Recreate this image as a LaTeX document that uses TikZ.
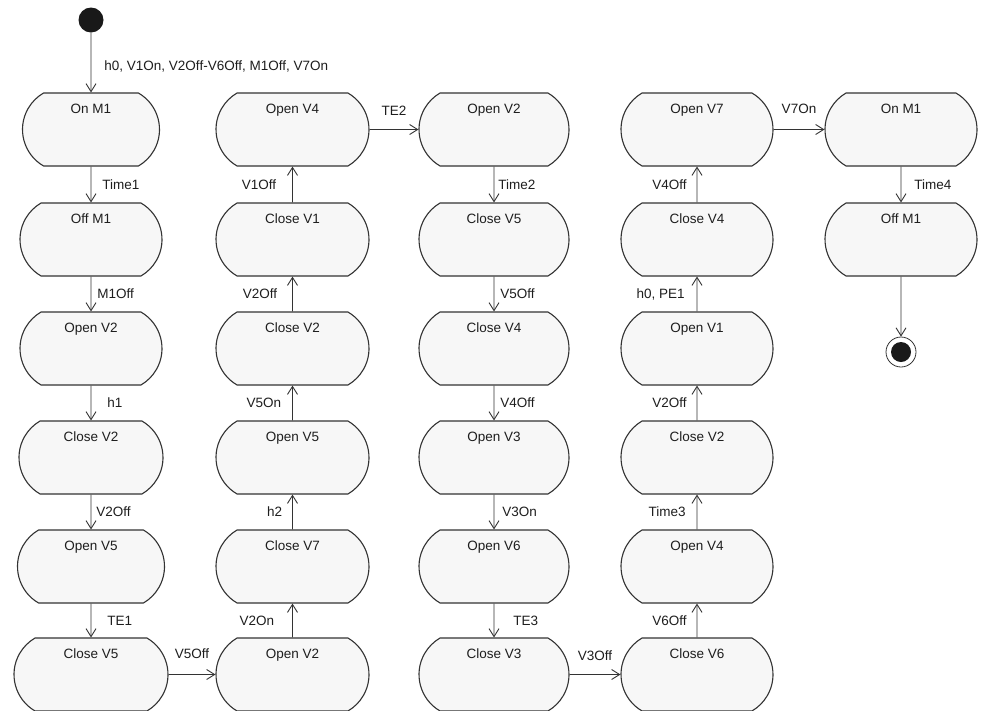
\documentclass[tikz,border=0pt]{standalone}
\usepackage{fontspec}
\setmainfont{Liberation Sans}
\usetikzlibrary{shapes.misc,arrows.meta}
\definecolor{ln}{HTML}{333333}
\definecolor{bx}{HTML}{F7F7F7}
\definecolor{tx}{HTML}{1E1E1E}
\begin{document}
\begin{tikzpicture}[x=1pt,y=-1pt,
 st/.style={rounded rectangle, rounded rectangle arc length=120, draw=ln, fill=bx,
   line width=1.1pt, minimum height=73pt, inner xsep=4pt, inner ysep=0pt,
   text height=20pt, text depth=53pt, font=\fontsize{13.5}{16}\selectfont, text=tx},
 tr/.style={draw=ln, line width=0.9pt, -{Straight Barb[length=8pt,width=10pt,line width=0.9pt]}},
 lab/.style={font=\fontsize{13.5}{16}\selectfont, text=tx, inner sep=0pt},
 R/.style={lab, anchor=west, xshift=#1},
 L/.style={lab, anchor=east, xshift=-#1},
 A/.style={lab, anchor=south, yshift=#1},
]
\useasboundingbox (0,0) rectangle (983,710);
\fill[white] (0,0) rectangle (983,710);
% column 1
\node[st, minimum width=145pt] (a1) at (91,129.5) {On M1};
\node[st, minimum width=150pt] (a2) at (91,239.5) {Off M1};
\node[st, minimum width=150pt] (a3) at (91,348.5) {Open V2};
\node[st, minimum width=152pt] (a4) at (91,457.5) {Close V2};
\node[st, minimum width=155pt] (a5) at (91,566.5) {Open V5};
\node[st, minimum width=162pt] (a6) at (91,674.5) {Close V5};
% column 2
\node[st, minimum width=161pt] (b1) at (292.5,129.5) {Open V4};
\node[st, minimum width=161pt] (b2) at (292.5,239.5) {Close V1};
\node[st, minimum width=161pt] (b3) at (292.5,348.5) {Close V2};
\node[st, minimum width=161pt] (b4) at (292.5,457.5) {Open V5};
\node[st, minimum width=161pt] (b5) at (292.5,566.5) {Close V7};
\node[st, minimum width=161pt] (b6) at (292.5,674.5) {Open V2};
% column 3
\node[st, minimum width=158pt] (c1) at (494,129.5) {Open V2};
\node[st, minimum width=158pt] (c2) at (494,239.5) {Close V5};
\node[st, minimum width=158pt] (c3) at (494,348.5) {Close V4};
\node[st, minimum width=158pt] (c4) at (494,457.5) {Open V3};
\node[st, minimum width=158pt] (c5) at (494,566.5) {Open V6};
\node[st, minimum width=158pt] (c6) at (494,674.5) {Close V3};
% column 4
\node[st, minimum width=160pt] (d1) at (697,129.5) {Open V7};
\node[st, minimum width=160pt] (d2) at (697,239.5) {Close V4};
\node[st, minimum width=160pt] (d3) at (697,348.5) {Open V1};
\node[st, minimum width=160pt] (d4) at (697,457.5) {Close V2};
\node[st, minimum width=160pt] (d5) at (697,566.5) {Open V4};
\node[st, minimum width=160pt] (d6) at (697,674.5) {Close V6};
% column 5
\node[st, minimum width=160pt] (e1) at (901,129.5) {On M1};
\node[st, minimum width=160pt] (e2) at (901,239.5) {Off M1};
% pseudo states
\node[circle, fill=black!90, minimum size=25pt, inner sep=0pt] (init) at (91,20) {};
\node[circle, draw=ln, line width=0.8pt, fill=white, minimum size=30pt, inner sep=0pt] (fin) at (901,352) {};
\fill[black!90] (fin.center) circle[radius=10pt];
% transitions
\draw[tr] (init) -- node[R=13pt, pos=0.57]{h0, V1On, V2Off-V6Off, M1Off, V7On} (a1);
\draw[tr] (a1) -- node[R=11pt]{Time1} (a2);
\draw[tr] (a2) -- node[R=6pt]{M1Off} (a3);
\draw[tr] (a3) -- node[R=16pt]{h1} (a4);
\draw[tr] (a4) -- node[R=5pt]{V2Off} (a5);
\draw[tr] (a5) -- node[R=16pt]{TE1} (a6);
\draw[tr] (a6) -- node[A=15pt]{V5Off} (b6);
\draw[tr] (b6) -- node[L=18pt]{V2On} (b5);
\draw[tr] (b5) -- node[L=10pt]{h2} (b4);
\draw[tr] (b4) -- node[L=11pt]{V5On} (b3);
\draw[tr] (b3) -- node[L=15pt]{V2Off} (b2);
\draw[tr] (b2) -- node[L=16pt]{V1Off} (b1);
\draw[tr] (b1) -- node[A=14pt]{TE2} (c1);
\draw[tr] (c1) -- node[R=4pt]{Time2} (c2);
\draw[tr] (c2) -- node[R=6pt]{V5Off} (c3);
\draw[tr] (c3) -- node[R=6pt]{V4Off} (c4);
\draw[tr] (c4) -- node[R=8pt]{V3On} (c5);
\draw[tr] (c5) -- node[R=19pt]{TE3} (c6);
\draw[tr] (c6) -- node[A=13pt]{V3Off} (d6);
\draw[tr] (d6) -- node[L=10pt]{V6Off} (d5);
\draw[tr] (d5) -- node[L=11pt]{Time3} (d4);
\draw[tr] (d4) -- node[L=10pt]{V2Off} (d3);
\draw[tr] (d3) -- node[L=12pt]{h0, PE1} (d2);
\draw[tr] (d2) -- node[L=10pt]{V4Off} (d1);
\draw[tr] (d1) -- node[A=15pt]{V7On} (e1);
\draw[tr] (e1) -- node[R=13pt]{Time4} (e2);
\draw[tr] (e2) -- (fin);
\end{tikzpicture}
\end{document}
